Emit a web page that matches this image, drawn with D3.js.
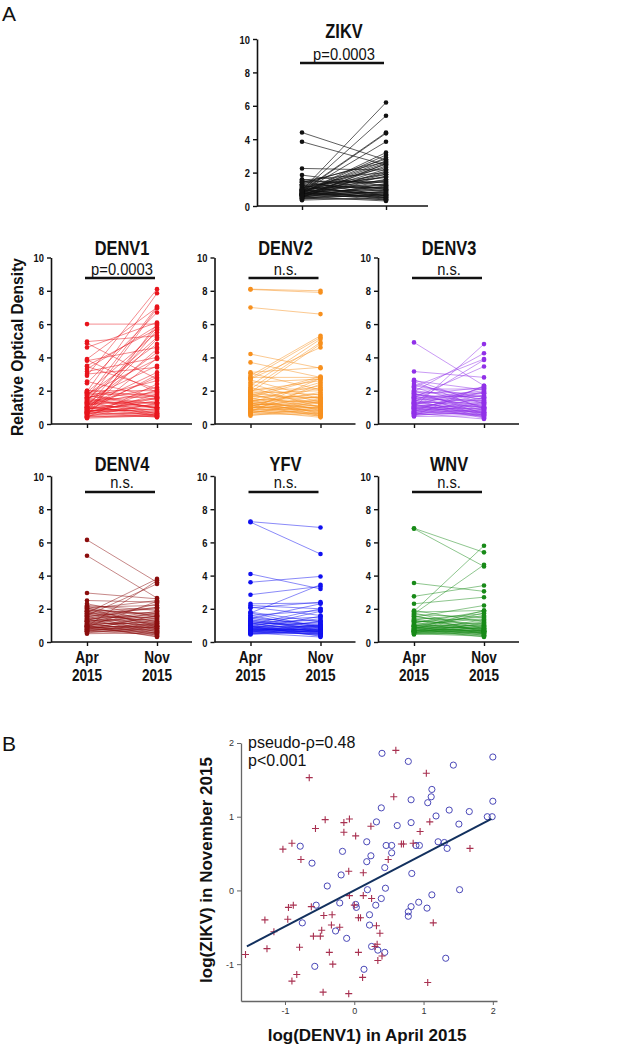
<!DOCTYPE html>
<html>
<head>
<meta charset="utf-8">
<script src="https://cdn.jsdelivr.net/npm/d3@7"></script>
<style>
  body { margin: 0; background: #fff; }
  svg { display: block; font-family: "Liberation Sans", Arial, Helvetica, sans-serif; }
</style>
</head>
<body>
<svg width="627" height="1050"></svg>
<script>
// ---- data ----
const panelNames = ["ZIKV", "DENV1", "DENV2", "DENV3", "DENV4", "YFV", "WNV"];
const panelStats = ["p=0.0003", "p=0.0003", "n.s.", "n.s.", "n.s.", "n.s.", "n.s."];
const timepoints = ["Apr", "Nov"];
const yearLabel = "2015";
const odTicks = [0, 2, 4, 6, 8, 10];

// [April 2015, November 2015] relative optical density per subject
const zikv = [[4.4,2.75],[3.85,2.45],[2.25,2.15],[1.85,1.2],[1.6,1.0],[1.55,2.0],[1.5,0.6],[1.45,1.4],[1.4,0.9],[1.3,2.8],[1.25,0.5],[1.2,1.7],[1.15,1.1],[1.1,0.7],[1.05,2.3],[1.0,1.3],[1.0,0.45],[0.95,6.2],[0.9,5.4],[0.9,4.4],[0.85,4.35],[0.85,3.85],[0.8,3.2],[0.8,3.05],[0.8,2.6],[0.75,2.9],[0.75,2.5],[0.7,2.2],[0.7,1.9],[0.7,1.6],[0.65,1.5],[0.65,0.8],[0.6,1.8],[0.6,1.2],[0.6,0.55],[0.55,2.1],[0.55,1.0],[0.5,0.65],[0.5,1.35],[0.45,0.4],[0.45,0.9],[0.4,0.75],[0.35,0.5],[1.1,1.9],[0.95,1.55],[0.9,0.95],[0.85,2.7],[0.8,0.35],[0.75,1.15],[0.7,0.85],[0.65,2.4],[0.6,0.7],[1.2,0.6],[1.3,1.05],[0.55,0.3],[0.5,2.55],[0.75,0.6],[1.0,1.75],[0.9,1.25],[0.8,0.5],[0.7,2.0],[0.65,1.1],[1.4,2.65],[1.5,1.45],[0.85,0.8],[0.95,0.4]];
const denv1 = [[6.0,6.0],[4.95,5.3],[4.85,2.7],[4.6,6.1],[3.9,7.0],[3.85,1.9],[3.8,4.6],[3.5,5.7],[3.45,2.1],[3.3,5.9],[3.15,4.0],[3.0,3.4],[2.9,8.1],[2.55,1.6],[2.45,6.7],[2.0,2.0],[1.95,7.85],[1.9,5.5],[1.9,1.5],[1.85,0.9],[1.8,1.8],[1.8,3.9],[1.75,4.8],[1.7,1.2],[1.6,7.05],[1.6,0.6],[1.55,2.6],[1.5,1.0],[1.45,5.2],[1.4,1.7],[1.35,0.5],[1.3,6.95],[1.3,2.2],[1.25,1.3],[1.2,4.3],[1.2,0.8],[1.15,1.5],[1.1,3.1],[1.1,0.45],[1.05,5.8],[1.0,1.1],[1.0,2.8],[0.95,0.7],[0.9,5.1],[0.9,1.6],[0.85,0.55],[0.85,4.5],[0.8,1.0],[0.8,2.95],[0.75,0.4],[0.75,1.4],[0.7,5.65],[0.7,0.9],[0.65,2.05],[0.65,0.6],[0.6,1.2],[0.6,3.95],[0.55,0.5],[0.55,1.8],[0.5,0.75],[0.5,6.0],[0.45,0.45],[0.45,1.25],[0.4,0.6],[0.4,2.4],[0.35,0.5],[1.7,0.95],[1.4,1.0],[1.0,0.65],[0.9,1.3],[1.2,1.95],[0.8,0.85],[1.5,3.5],[2.0,1.65],[0.7,1.55]];
const denv2 = [[8.1,8.0],[8.08,7.9],[7.0,6.6],[4.2,3.35],[3.7,2.8],[3.1,3.4],[3.05,2.05],[2.9,5.3],[2.8,2.8],[2.75,5.2],[2.7,4.6],[2.65,1.5],[2.5,2.7],[2.3,5.1],[2.2,1.0],[2.1,4.9],[2.0,2.6],[1.95,1.2],[1.9,4.8],[1.85,2.0],[1.8,0.8],[1.7,2.85],[1.65,1.6],[1.6,0.6],[1.5,1.3],[1.5,2.3],[1.45,0.5],[1.4,1.8],[1.35,0.9],[1.3,1.4],[1.3,2.5],[1.25,0.7],[1.2,1.1],[1.2,1.9],[1.15,0.45],[1.1,1.5],[1.1,0.8],[1.05,2.2],[1.0,1.0],[1.0,0.6],[0.95,1.7],[0.95,1.25],[0.9,0.55],[0.9,2.75],[0.85,0.9],[0.85,1.45],[0.8,0.4],[0.8,1.15],[0.75,2.4],[0.75,0.7],[0.7,1.05],[0.7,0.5],[0.65,1.35],[0.6,0.85],[0.55,0.65],[0.5,1.0],[2.4,1.3],[2.1,2.1],[1.75,1.0],[1.6,2.75],[1.4,1.6],[1.25,0.95],[1.15,1.3],[1.05,0.75],[2.0,1.75],[1.8,1.55]];
const denv3 = [[4.9,2.3],[3.15,2.8],[2.65,1.2],[2.6,2.05],[2.55,0.9],[2.3,1.6],[2.25,3.9],[2.2,1.0],[2.1,2.1],[2.0,0.6],[2.0,1.5],[1.95,4.25],[1.9,1.85],[1.85,0.8],[1.8,1.3],[1.75,2.2],[1.7,0.5],[1.65,1.1],[1.6,3.45],[1.6,1.7],[1.55,0.7],[1.5,1.4],[1.5,2.0],[1.45,0.4],[1.4,1.0],[1.4,1.9],[1.35,0.6],[1.3,1.25],[1.3,3.85],[1.25,0.85],[1.2,1.55],[1.2,0.35],[1.15,2.15],[1.1,1.05],[1.1,0.65],[1.05,1.45],[1.0,0.9],[1.0,4.8],[0.95,1.75],[0.95,0.5],[0.9,1.2],[0.9,0.75],[0.85,1.95],[0.85,0.45],[0.8,1.0],[0.8,1.35],[0.75,0.55],[0.75,2.25],[0.7,0.8],[0.7,1.15],[0.65,0.3],[0.65,1.6],[0.6,0.95],[0.6,0.6],[0.55,1.3],[0.55,0.7],[0.5,0.85],[0.5,2.3],[0.45,0.5],[1.8,0.95],[1.7,1.65],[1.25,1.85],[1.15,0.7],[2.4,1.4],[1.05,0.55]];
const denv4 = [[6.15,3.6],[5.2,2.65],[2.95,2.6],[2.5,2.4],[2.2,1.9],[2.15,1.2],[2.1,2.2],[2.05,0.9],[2.0,1.6],[2.0,2.5],[1.95,1.0],[1.9,1.7],[1.85,0.8],[1.8,1.4],[1.75,3.8],[1.7,2.0],[1.7,0.7],[1.65,1.25],[1.6,3.5],[1.6,1.8],[1.55,0.6],[1.5,1.5],[1.5,2.1],[1.45,1.1],[1.4,0.5],[1.4,1.65],[1.35,0.95],[1.3,1.35],[1.3,2.3],[1.25,0.8],[1.2,1.55],[1.2,0.4],[1.15,1.05],[1.1,1.75],[1.1,0.65],[1.05,1.2],[1.0,0.85],[1.0,1.45],[0.95,0.55],[0.95,3.7],[0.9,0.9],[0.9,1.3],[0.9,0.35],[0.85,1.0],[0.85,0.7],[0.8,1.15],[0.8,0.5],[0.75,0.8],[0.75,1.6],[0.7,0.6],[0.7,0.95],[0.65,1.1],[0.65,0.45],[0.6,0.75],[0.55,0.9],[0.5,0.55],[1.75,1.15],[1.25,1.85],[1.0,0.3],[2.3,1.5],[1.85,2.05],[0.9,2.45]];
const yfv = [[7.25,6.9],[7.22,5.3],[4.1,3.2],[3.6,3.95],[2.85,3.35],[2.3,2.35],[2.2,2.0],[2.1,1.6],[2.05,2.4],[1.8,1.2],[1.75,3.45],[1.75,0.9],[1.6,1.9],[1.5,1.0],[1.45,0.7],[1.4,2.3],[1.3,1.5],[1.25,0.8],[1.2,1.3],[1.15,0.6],[1.1,1.1],[1.05,2.0],[1.0,0.5],[1.0,1.4],[0.95,0.9],[0.95,0.35],[0.9,1.2],[0.9,0.65],[0.85,1.0],[0.85,0.45],[0.8,1.55],[0.8,0.75],[0.8,0.55],[0.75,0.95],[0.75,0.4],[0.7,0.85],[0.7,1.25],[0.7,0.6],[0.65,0.7],[0.65,1.05],[0.6,0.5],[0.6,0.8],[0.55,0.65],[0.55,0.3],[0.5,0.9],[0.5,0.55],[0.45,0.7],[1.1,0.6],[0.9,1.85],[0.75,0.75],[0.65,0.45],[1.6,0.85],[1.35,0.65],[0.6,1.0],[0.85,0.6],[1.2,0.95]];
const wnv = [[6.85,5.4],[6.82,4.55],[3.55,3.05],[2.75,3.4],[2.3,2.7],[1.9,1.2],[1.85,5.8],[1.8,1.9],[1.75,0.8],[1.7,4.65],[1.65,1.5],[1.6,0.6],[1.55,1.0],[1.5,2.2],[1.45,1.3],[1.4,0.7],[1.35,1.7],[1.3,0.9],[1.25,1.1],[1.2,0.5],[1.15,1.85],[1.1,0.75],[1.05,1.4],[1.0,0.55],[1.0,1.0],[0.95,0.65],[0.95,1.6],[0.9,0.85],[0.9,0.4],[0.85,1.2],[0.85,0.6],[0.8,0.95],[0.8,0.3],[0.75,1.75],[0.75,0.7],[0.7,0.5],[0.7,1.05],[0.7,0.8],[0.65,0.6],[0.65,1.35],[0.6,0.45],[0.6,0.9],[0.6,0.7],[0.55,0.55],[0.55,1.15],[0.5,0.75],[0.5,0.35],[0.45,0.6],[1.2,1.5],[1.0,0.8],[0.8,1.9],[0.9,0.5],[0.7,0.65],[1.3,0.65],[0.65,0.85],[0.55,0.4]];

// panel B: [log(DENV1) April 2015, log(ZIKV) November 2015]
const scatterCircles = [[0.40,1.86],[0.78,1.75],[2.0,1.81],[1.43,1.70],[0.39,1.12],[0.82,1.23],[1.12,1.37],[1.11,1.27],[1.06,1.19],[2.0,1.21],[1.37,1.09],[1.66,1.07],[1.18,1.01],[1.92,1.0],[1.99,1.0],[0.32,0.93],[0.62,0.88],[0.82,0.92],[1.51,0.90],[-0.78,0.60],[0.18,0.66],[0.46,0.61],[0.54,0.61],[0.89,0.61],[0.94,0.61],[1.21,0.66],[1.30,0.65],[1.34,0.57],[-0.17,0.53],[0.54,0.51],[0.24,0.47],[0.18,0.39],[-0.61,0.37],[-0.19,0.21],[0.44,0.31],[0.83,0.23],[-0.39,0.06],[0.19,0.01],[0.45,0.03],[1.52,0.01],[-0.55,-0.20],[-0.21,-0.17],[0.02,-0.19],[0.03,-0.23],[0.31,-0.20],[0.39,-0.11],[0.93,-0.16],[1.12,-0.06],[0.82,-0.22],[0.78,-0.29],[0.78,-0.35],[1.05,-0.24],[-0.75,-0.44],[0.22,-0.33],[0.22,-0.47],[-0.27,-0.55],[-0.11,-0.65],[0.25,-0.76],[0.34,-0.81],[0.44,-0.84],[1.32,-0.92],[-0.57,-1.03],[0.14,-1.07]];
const scatterCrosses = [[0.60,1.90],[1.04,1.59],[-0.65,1.53],[0.57,1.27],[-0.42,0.96],[-0.07,0.97],[-0.56,0.84],[-0.15,0.92],[-0.15,0.79],[0.24,0.87],[0.02,0.74],[1.09,0.93],[0.95,0.80],[0.68,0.63],[0.71,0.63],[0.85,0.64],[-0.90,0.64],[-1.03,0.56],[-0.77,0.42],[0.49,0.42],[1.67,0.57],[-0.08,0.26],[0.13,0.24],[0.13,-0.07],[-0.07,-0.07],[0.00,-0.20],[-0.88,-0.20],[-0.95,-0.23],[-0.62,-0.22],[0.25,-0.11],[-1.29,-0.40],[-0.96,-0.39],[-0.44,-0.34],[-0.32,-0.33],[0.06,-0.37],[0.09,-0.37],[-1.16,-0.56],[-0.59,-0.62],[-0.49,-0.62],[-0.47,-0.54],[-0.33,-0.47],[-0.21,-0.50],[0.32,-0.48],[0.37,-0.58],[1.14,-0.44],[-1.26,-0.79],[-0.79,-0.77],[-0.36,-0.84],[0.06,-0.84],[0.30,-0.76],[0.33,-0.73],[0.40,-0.89],[0.34,-0.95],[-0.31,-1.00],[-1.57,-0.87],[-0.83,-1.14],[-0.90,-1.23],[0.12,-1.18],[1.06,-1.25],[-0.45,-1.38],[-0.08,-1.40]];
const fitX = [-1.55, 1.98];
const fitCoef = [0.0, 0.49]; // intercept, slope
const scatterTicks = [-1, 0, 1, 2];
const scatterStats = ["pseudo-\u03c1=0.48", "p<0.001"];

const seriesData = [zikv, denv1, denv2, denv3, denv4, yfv, wnv];
const seriesColors = ["#111111", "#e8141c", "#f7901e", "#9030e8", "#8b0d0d", "#1010f0", "#188a18"];

// ---- layout ----
const svg = d3.select("svg");

function condensed(parent, x, y, str, size, weight, sx, anchor) {
  const g = parent.append("g").attr("transform", "translate(" + x + "," + y + ") scale(" + sx + ",1)");
  return g.append("text")
    .attr("text-anchor", anchor || "middle")
    .attr("font-size", size)
    .attr("font-weight", weight)
    .attr("fill", "#111")
    .text(str);
}

const rows = [
  { top: 39, bottom: 206, titleY: 38, statY: 60, barY: 63 },
  { top: 257.5, bottom: 424, titleY: 255, statY: 275, barY: 278 },
  { top: 476, bottom: 642, titleY: 471, statY: 488, barY: 492 }
];

const panels = panelNames.map(function (name, i) {
  let p;
  if (i === 0) {
    p = { x0: 257, aprX: 302, novX: 386, endX: 428, row: rows[0] };
  } else {
    const col = (i - 1) % 3;
    const x0 = 51 + col * 163.5;
    p = { x0: x0, aprX: x0 + 36, novX: x0 + 106, endX: x0 + 141, row: rows[1 + Math.floor((i - 1) / 3)] };
  }
  p.name = name;
  p.stat = panelStats[i];
  p.data = seriesData[i];
  p.color = seriesColors[i];
  p.bottomRow = i >= 4;
  return p;
});

panels.forEach(function (p) {
  const g = svg.append("g");
  const y = d3.scaleLinear().domain([0, 10]).range([p.row.bottom, p.row.top]);
  const x = d3.scalePoint().domain(timepoints).range([p.aprX, p.novX]);

  // y axis
  const ya = g.append("g")
    .attr("transform", "translate(" + p.x0 + ",0)")
    .call(d3.axisLeft(y).tickValues(odTicks).tickSize(4).tickSizeOuter(0));
  ya.select(".domain").attr("stroke", "#111").attr("stroke-width", 1.6);
  ya.selectAll(".tick line").attr("stroke", "#111").attr("stroke-width", 1.4);
  ya.selectAll(".tick text").remove();
  ya.selectAll(".tick").each(function (d) {
    condensed(d3.select(this), -7, 4, d, 11, "bold", 0.85, "end");
  });

  // x axis
  g.append("line")
    .attr("x1", p.x0).attr("x2", p.endX)
    .attr("y1", p.row.bottom).attr("y2", p.row.bottom)
    .attr("stroke", "#111").attr("stroke-width", 1.6);
  const xa = g.append("g")
    .attr("transform", "translate(0," + p.row.bottom + ")")
    .call(d3.axisBottom(x).tickSize(4).tickSizeOuter(0).tickFormat(""));
  xa.select(".domain").remove();
  xa.selectAll(".tick line").attr("stroke", "#111").attr("stroke-width", 1.4);

  if (p.bottomRow) {
    timepoints.forEach(function (t) {
      condensed(g, x(t), p.row.bottom + 21, t, 16, "bold", 0.85);
      condensed(g, x(t), p.row.bottom + 39, yearLabel, 16, "bold", 0.85);
    });
  }

  // paired lines
  g.append("g").selectAll("line")
    .data(p.data)
    .enter()
    .append("line")
    .attr("x1", x("Apr"))
    .attr("x2", x("Nov"))
    .attr("y1", function (d) { return y(d[0]); })
    .attr("y2", function (d) { return y(d[1]); })
    .attr("stroke", p.color)
    .attr("stroke-opacity", p.name === "ZIKV" ? 0.75 : 0.55)
    .attr("stroke-width", 0.9);

  // dots
  const dots = g.append("g");
  [0, 1].forEach(function (k) {
    dots.selectAll("circle.t" + k)
      .data(p.data)
      .enter()
      .append("circle")
      .attr("class", "t" + k)
      .attr("cx", x(timepoints[k]))
      .attr("cy", function (d) { return y(d[k]); })
      .attr("r", 2.3)
      .attr("fill", p.color);
  });

  // title, stat, bar
  condensed(g, (p.aprX + p.novX) / 2, p.row.titleY, p.name, 20, "bold", 0.82);
  condensed(g, (p.aprX + p.novX) / 2, p.row.statY, p.stat, 16, "normal", 0.92);
  g.append("line")
    .attr("x1", p.aprX - 2).attr("x2", p.novX - 2)
    .attr("y1", p.row.barY).attr("y2", p.row.barY)
    .attr("stroke", "#111").attr("stroke-width", 2.6);
});

// panel letters and shared y label
svg.append("text").attr("x", 2).attr("y", 21).attr("font-size", 21).attr("fill", "#111").text("A");
svg.append("text").attr("x", 2).attr("y", 751).attr("font-size", 21).attr("fill", "#111").text("B");
svg.append("g")
  .attr("transform", "translate(23,347) rotate(-90) scale(0.92,1)")
  .append("text")
  .attr("text-anchor", "middle")
  .attr("font-size", 17)
  .attr("font-weight", "bold")
  .attr("fill", "#111")
  .text("Relative Optical Density");

// ---- panel B scatter ----
const sx = d3.scaleLinear().domain([-1.635, 2.06]).range([241, 497]);
const sy = d3.scaleLinear().domain([-1.5, 2.0]).range([1001, 743]);
const sg = svg.append("g");

const xAxisB = sg.append("g")
  .attr("transform", "translate(0,1001)")
  .call(d3.axisBottom(sx).tickValues(scatterTicks).tickSize(4).tickSizeOuter(0)
    .tickFormat(function (d) { return String(d); }));
const yAxisB = sg.append("g")
  .attr("transform", "translate(241,0)")
  .call(d3.axisLeft(sy).tickValues(scatterTicks).tickSize(4).tickSizeOuter(0)
    .tickFormat(function (d) { return String(d); }));
[xAxisB, yAxisB].forEach(function (a) {
  a.select(".domain").attr("stroke", "#666").attr("stroke-width", 1.3);
  a.selectAll(".tick line").attr("stroke", "#666");
  a.selectAll(".tick text").attr("font-size", 9).attr("fill", "#333").attr("font-family", "Liberation Sans, Arial, sans-serif");
});

sg.append("g").selectAll("circle")
  .data(scatterCircles)
  .enter()
  .append("circle")
  .attr("cx", function (d) { return sx(d[0]); })
  .attr("cy", function (d) { return sy(d[1]); })
  .attr("r", 3.1)
  .attr("fill", "none")
  .attr("stroke", "#4a48b8")
  .attr("stroke-width", 1);

sg.append("g").selectAll("path")
  .data(scatterCrosses)
  .enter()
  .append("path")
  .attr("d", function (d) {
    const cx = sx(d[0]), cy = sy(d[1]), h = 3.5;
    return "M" + (cx - h) + "," + cy + "H" + (cx + h) + "M" + cx + "," + (cy - h) + "V" + (cy + h);
  })
  .attr("stroke", "#a83050")
  .attr("stroke-width", 1.1);

sg.append("line")
  .attr("x1", sx(fitX[0])).attr("y1", sy(fitCoef[0] + fitCoef[1] * fitX[0]))
  .attr("x2", sx(fitX[1])).attr("y2", sy(fitCoef[0] + fitCoef[1] * fitX[1]))
  .attr("stroke", "#12305e")
  .attr("stroke-width", 2);

scatterStats.forEach(function (s, i) {
  sg.append("text")
    .attr("x", 248).attr("y", 748 + i * 18)
    .attr("font-size", 16)
    .attr("fill", "#111")
    .text(s);
});

sg.append("text")
  .attr("x", 367).attr("y", 1041)
  .attr("text-anchor", "middle")
  .attr("font-size", 17)
  .attr("font-weight", "bold")
  .attr("fill", "#111")
  .text("log(DENV1) in April 2015");

sg.append("text")
  .attr("transform", "translate(212,870) rotate(-90)")
  .attr("text-anchor", "middle")
  .attr("font-size", 17)
  .attr("font-weight", "bold")
  .attr("fill", "#111")
  .text("log(ZIKV) in November 2015");
</script>
</body>
</html>
